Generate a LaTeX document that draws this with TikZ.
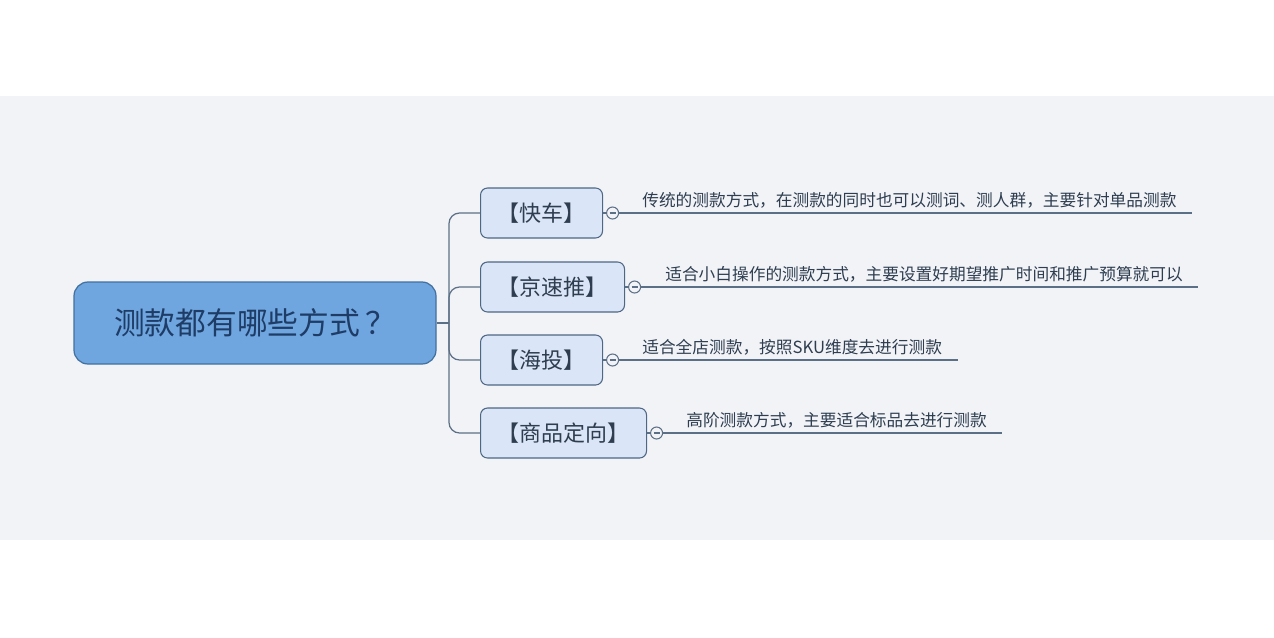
\documentclass[tikz,border=0pt]{standalone}
\usepackage{fontspec}
\setmainfont{Noto Sans CJK SC}
\usetikzlibrary{positioning}
\definecolor{bandbg}{HTML}{F2F3F7}
\definecolor{rootfill}{HTML}{6FA6DF}
\definecolor{rootline}{HTML}{42709F}
\definecolor{rootink}{HTML}{1E3C66}
\definecolor{kidfill}{HTML}{DAE5F7}
\definecolor{kidline}{HTML}{4E6785}
\definecolor{wire}{HTML}{5B6F86}
\definecolor{ink}{HTML}{2E3E50}

\begin{document}
\begin{tikzpicture}[
    x=0.02cm, y=-0.02cm,
    every node/.style={text=ink},
    root/.style={draw=rootline, fill=rootfill, rounded corners=8pt, line width=0.7pt,
                 minimum width=362*0.02cm, minimum height=82*0.02cm, inner sep=0pt,
                 font=\fontsize{17.5}{20}\selectfont, text=rootink},
    kid/.style ={draw=kidline, fill=kidfill, rounded corners=4pt, line width=0.6pt,
                 minimum height=50*0.02cm, inner sep=0pt, anchor=west,
                 font=\fontsize{12.5}{15}\selectfont},
    knob/.style={circle, draw=wire, fill=bandbg, line width=0.6pt,
                 minimum size=12*0.02cm, inner sep=0pt},
    note/.style={anchor=south west, inner sep=0pt, font=\fontsize{9.5}{11}\selectfont},
    branch/.style={draw=wire, line width=0.7pt},
]
\fill[white] (0,0) rectangle (1274,637);
\fill[bandbg] (0,96) rectangle (1274,540);
\useasboundingbox (0,0) rectangle (1274,637);

\node[root] (root) at (255,323) {测款都有哪些方式\,？};

\node[kid, minimum width=122*0.02cm] (kc)   at (480,213) {【快车】};
\node[kid, minimum width=144*0.02cm] (jst)  at (480,287) {【京速推】};
\node[kid, minimum width=122*0.02cm] (ht)   at (480,360) {【海投】};
\node[kid, minimum width=166*0.02cm] (spdx) at (480,433) {【商品定向】};

% hub to the four ways
\coordinate (hub) at (449,323);
\draw[branch] (root.east) -- (hub);
\foreach \k in {kc,jst,ht,spdx}
  \draw[branch, rounded corners=6pt] (hub) |- (\k.west);

% knobs and underlined notes
\node[knob, right=3*0.02cm of kc]   (c1) {};
\node[knob, right=3*0.02cm of jst]  (c2) {};
\node[knob, right=3*0.02cm of ht]   (c3) {};
\node[knob, right=3*0.02cm of spdx] (c4) {};
\coordinate (e1) at (1192,213);
\coordinate (e2) at (1198,287);
\coordinate (e3) at (958,360);
\coordinate (e4) at (1002,433);
\foreach \i/\k in {1/kc,2/jst,3/ht,4/spdx} {
  \draw[branch] (\k.east) -- (c\i.west);
  \draw[branch] (c\i.east) -- (e\i);
  \draw[wire, line width=0.6pt] ([xshift=-3*0.02cm]c\i.center) -- ([xshift=3*0.02cm]c\i.center);
}
\node[note] (t1) at (642,209) {传统的测款方式，在测款的同时也可以测词、测人群，主要针对单品测款};
\node[note] (t2) at (665,283) {适合小白操作的测款方式，主要设置好期望推广时间和推广预算就可以};
\node[note] (t3) at (642,356) {适合全店测款，按照SKU维度去进行测款};
\node[note] (t4) at (686,429) {高阶测款方式，主要适合标品去进行测款};
\end{tikzpicture}
\end{document}
